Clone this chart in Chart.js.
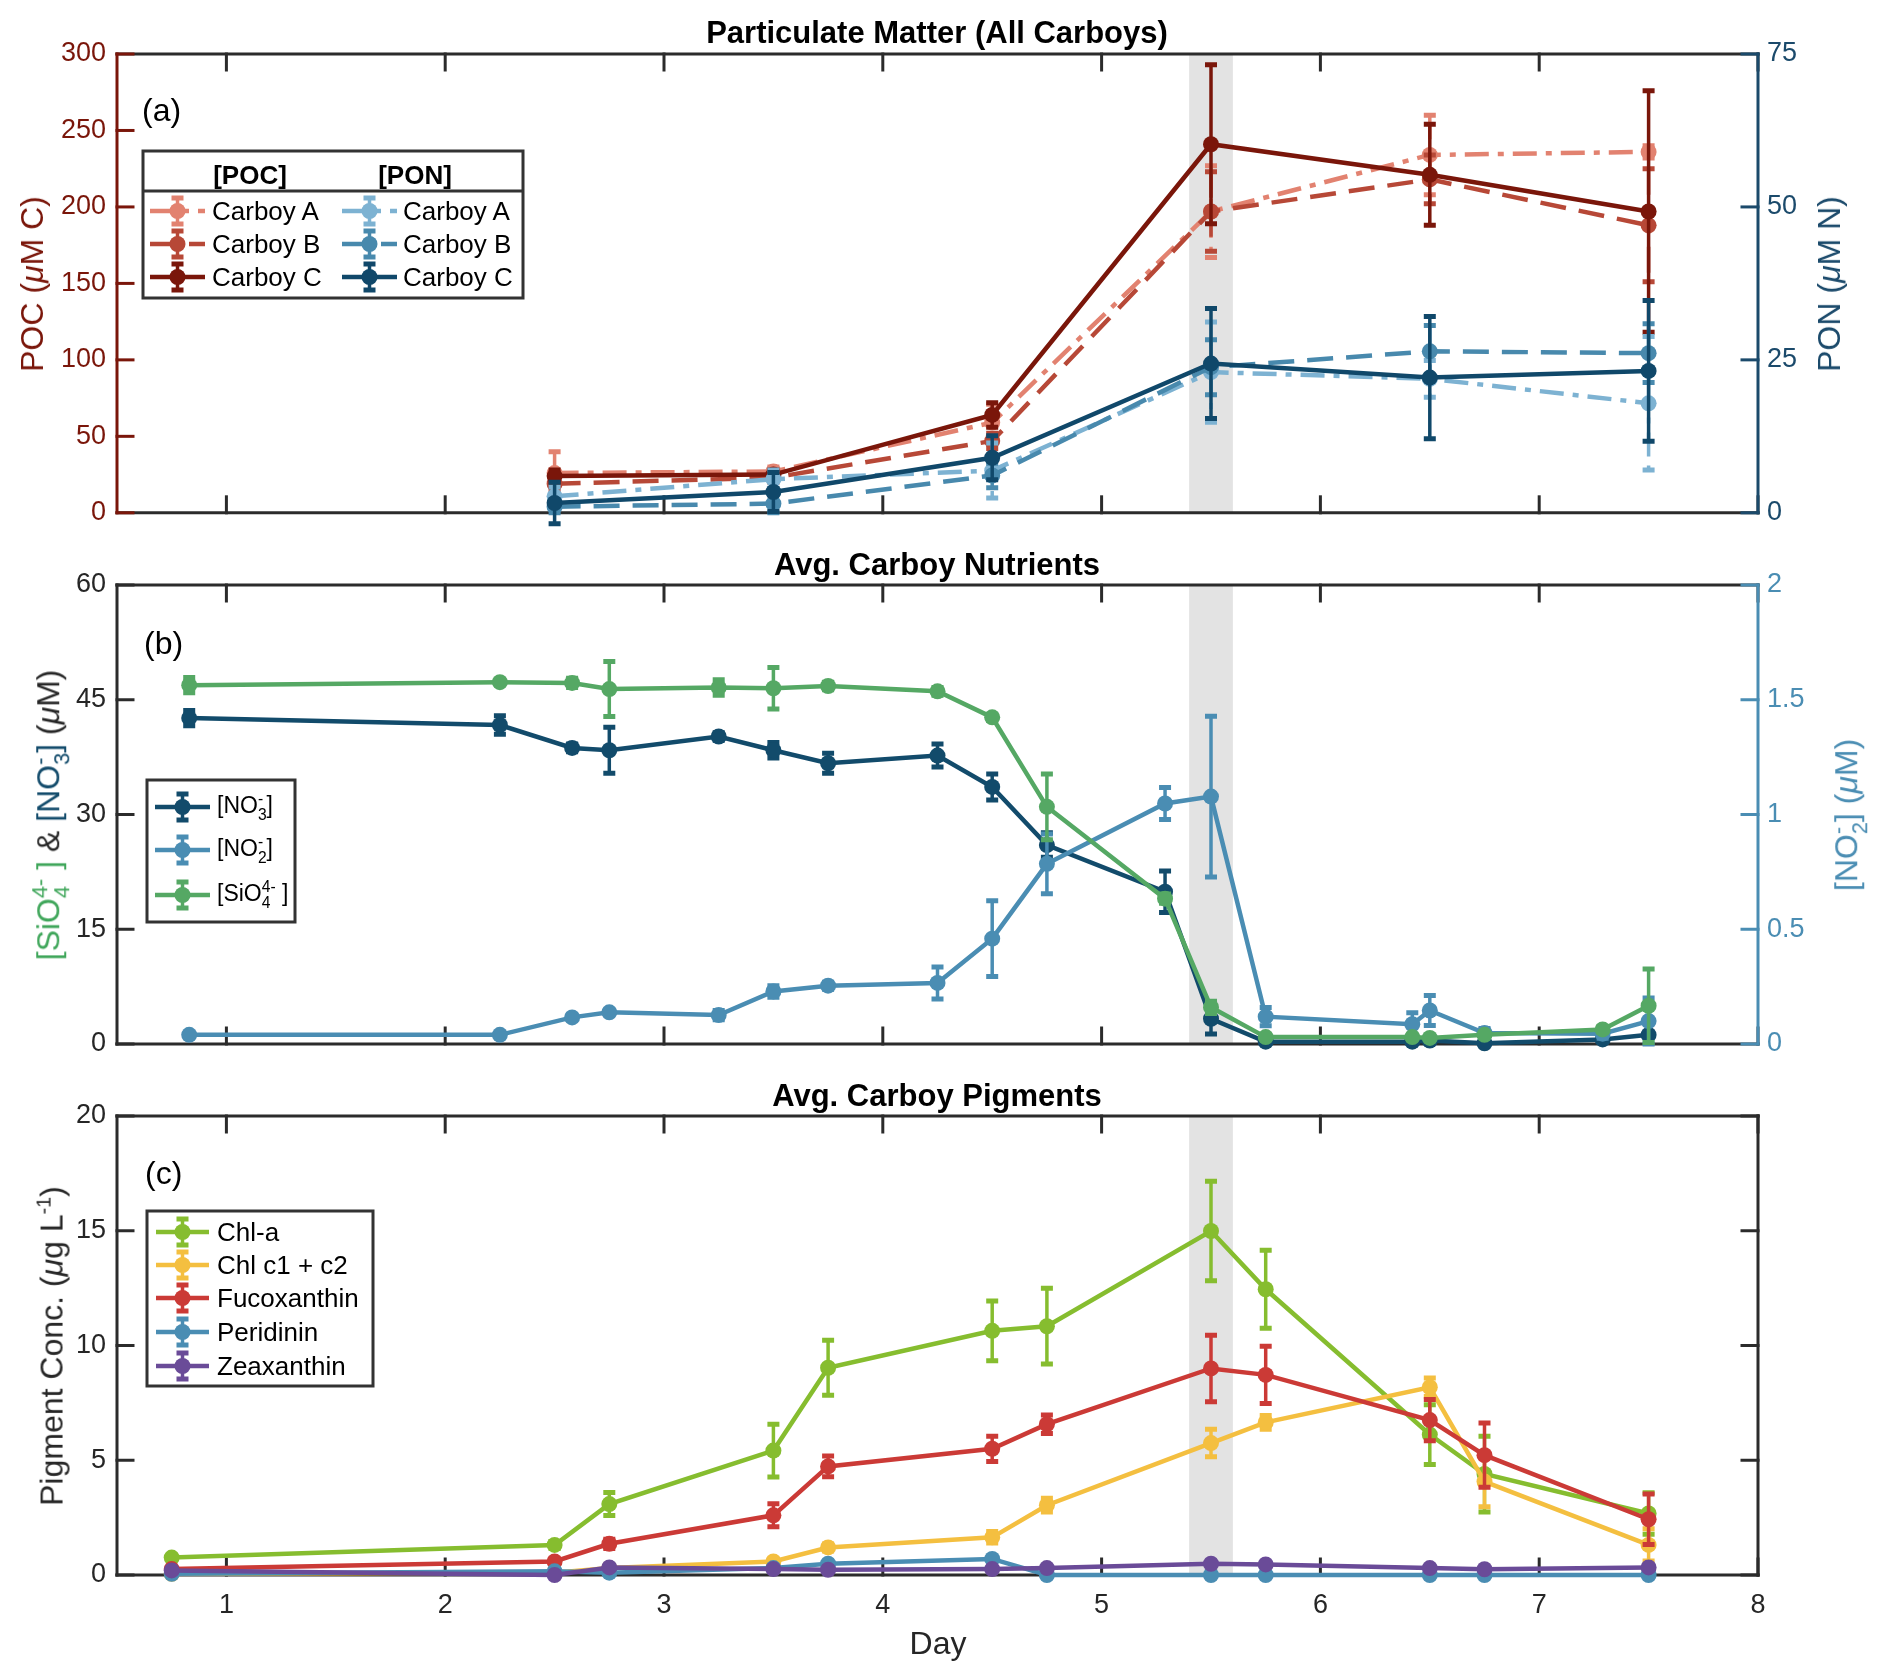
<!DOCTYPE html>
<html>
<head>
<meta charset="utf-8">
<title>Carboy particulate matter, nutrients and pigments</title>
<script src="https://cdn.jsdelivr.net/npm/chart.js@4.4.0/dist/chart.umd.min.js"></script>
<style>
body { margin: 0; background: #fff; }
#page { position: relative; width: 1892px; height: 1680px; font-family: 'Liberation Sans', Arial, Helvetica, sans-serif; color: #000; }
canvas { position: absolute; left: 0; }
.t { position: absolute; white-space: nowrap; line-height: 1; }
.ttl { font-weight: bold; font-size: 31px; transform: translate(-50%, -50%); }
.pl { font-size: 32px; transform: translateY(-50%); }
.yl { font-size: 32px; transform: translate(-50%, -50%) rotate(-90deg); }
.xl { font-size: 32px; transform: translate(-50%, -50%); color: #262626; }
.lg { font-size: 26px; transform: translateY(-50%); }
.lgh { font-size: 26px; font-weight: bold; transform: translate(-50%, -50%); }
.lgs { font-size: 23px; transform: translateY(-50%); }
.ss { display: inline-block; vertical-align: -0.45em; font-size: 0.68em; line-height: 1.0; }
.ss span { display: block; }
.sp { font-size: 0.62em; vertical-align: 0.6em; }
</style>
</head>
<body>
<div id="page">
  <canvas id="chartA" width="1892" height="540" style="top:0"></canvas>
  <canvas id="chartB" width="1892" height="540" style="top:540px"></canvas>
  <canvas id="chartC" width="1892" height="600" style="top:1080px"></canvas>

  <div class="t ttl" style="left:937px;top:32px">Particulate Matter (All Carboys)</div>
  <div class="t ttl" style="left:937px;top:564px">Avg. Carboy Nutrients</div>
  <div class="t ttl" style="left:937px;top:1095px">Avg. Carboy Pigments</div>

  <div class="t pl" style="left:142px;top:110px">(a)</div>
  <div class="t pl" style="left:144px;top:643px">(b)</div>
  <div class="t pl" style="left:145px;top:1173px">(c)</div>

  <div class="t yl" style="left:32px;top:284px;color:#7A160A">POC (<i>μ</i>M C)</div>
  <div class="t yl" style="left:1829px;top:284px;color:#1B4A6B">PON (<i>μ</i>M N)</div>
  <div class="t yl" style="left:51px;top:815px;color:#262626"><span style="color:#3FA65A">[SiO<span class="ss"><span>4-</span><span>4</span></span> ]</span> &amp; <span style="color:#124B6B">[NO<span class="ss"><span>-</span><span>3</span></span>]</span> (<i>μ</i>M)</div>
  <div class="t yl" style="left:1849px;top:815px;color:#4A8DB3">[NO<span class="ss"><span>-</span><span>2</span></span>] (<i>μ</i>M)</div>
  <div class="t yl" style="left:51px;top:1346px;color:#262626">Pigment Conc. (<i>μ</i>g L<span class="sp">-1</span>)</div>
  <div class="t xl" style="left:938px;top:1643px">Day</div>

  <div class="t lgh" style="left:250px;top:175px">[POC]</div>
  <div class="t lgh" style="left:415px;top:175px">[PON]</div>
  <div class="t lg" style="left:212px;top:211px">Carboy A</div>
  <div class="t lg" style="left:212px;top:244px">Carboy B</div>
  <div class="t lg" style="left:212px;top:277px">Carboy C</div>
  <div class="t lg" style="left:403px;top:211px">Carboy A</div>
  <div class="t lg" style="left:403px;top:244px">Carboy B</div>
  <div class="t lg" style="left:403px;top:277px">Carboy C</div>

  <div class="t lgs" style="left:217px;top:807px">[NO<span class="ss"><span>-</span><span>3</span></span>]</div>
  <div class="t lgs" style="left:217px;top:850px">[NO<span class="ss"><span>-</span><span>2</span></span>]</div>
  <div class="t lgs" style="left:217px;top:895px">[SiO<span class="ss"><span>4-</span><span>4</span></span> ]</div>

  <div class="t lg" style="left:217px;top:1232px">Chl-a</div>
  <div class="t lg" style="left:217px;top:1265px">Chl c1 + c2</div>
  <div class="t lg" style="left:217px;top:1298px">Fucoxanthin</div>
  <div class="t lg" style="left:217px;top:1332px">Peridinin</div>
  <div class="t lg" style="left:217px;top:1366px">Zeaxanthin</div>
</div>

<script>
// shared x axis
const dayTicks = [1, 2, 3, 4, 5, 6, 7, 8];
const dayMin = 0.5, dayMax = 8;
const bloomBand = [5.4, 5.6];

// (a) particulate matter, days sampled
const pmDays = [2.5, 3.5, 4.5, 5.5, 6.5, 7.5];
const pocA = [26, 27, 59, 197, 234, 236];
const pocAErr = [14, 3, 12, 30, 26, 4];
const pocB = [19, 23, 47, 197, 218, 188];
const pocBErr = [4, 3, 5, 26, 16, 37];
const pocC = [24, 25, 64, 241, 221, 197];
const pocCErr = [4, 3, 8, 52, 33, 79];
const ponA = [2.7, 5.5, 6.9, 23.0, 21.9, 17.9];
const ponAErr = [1.5, 1.5, 4.5, 8.2, 3, 10.9];
const ponB = [1.0, 1.5, 6.1, 23.8, 26.4, 26.1];
const ponBErr = [1, 1.5, 2, 4.5, 4.2, 4.8];
const ponC = [1.6, 3.4, 9.0, 24.4, 22.1, 23.2];
const ponCErr = [3.4, 3.2, 3.6, 9, 10, 11.5];

// (b) nutrients
const nutDays = [0.83, 2.25, 2.58, 2.75, 3.25, 3.5, 3.75, 4.25, 4.5, 4.75, 5.29, 5.5, 5.75, 6.42, 6.5, 6.75, 7.29, 7.5];
const sio4 = [46.9, 47.3, 47.2, 46.4, 46.6, 46.5, 46.8, 46.1, 42.7, 31.0, 19.0, 4.8, 0.9, 0.9, 0.8, 1.2, 1.9, 5.0];
const sio4Err = [1.0, 0.3, 0.6, 3.6, 1.0, 2.7, 0.5, 0.5, 0.4, 4.3, 0.6, 0.8, 0.3, 0.3, 0.3, 0.3, 0.4, 4.8];
const no3 = [42.6, 41.7, 38.7, 38.4, 40.2, 38.4, 36.7, 37.7, 33.6, 26.0, 19.9, 3.3, 0.3, 0.3, 0.45, 0.1, 0.6, 1.2];
const no3Err = [1.0, 1.2, 0.5, 3.0, 0.5, 1.0, 1.3, 1.5, 1.7, 1.6, 2.7, 2.0, 0.2, 0.2, 0.2, 0.2, 0.2, 0.3];
const no2 = [0.04, 0.04, 0.116, 0.138, 0.126, 0.229, 0.254, 0.266, 0.459, 0.785, 1.048, 1.078, 0.119, 0.086, 0.146, 0.048, 0.045, 0.10];
const no2Err = [0.01, 0.01, 0.01, 0.01, 0.02, 0.025, 0.015, 0.07, 0.165, 0.13, 0.07, 0.35, 0.04, 0.05, 0.065, 0.02, 0.02, 0.1];

// (c) pigments
const pigDays = [0.75, 2.5, 2.75, 3.5, 3.75, 4.5, 4.75, 5.5, 5.75, 6.5, 6.75, 7.5];
const chlA = [0.76, 1.31, 3.09, 5.42, 9.03, 10.64, 10.84, 14.99, 12.45, 6.12, 4.40, 2.68];
const chlAErr = [0.1, 0.15, 0.5, 1.15, 1.2, 1.3, 1.65, 2.17, 1.7, 1.3, 1.65, 0.9];
const chlC = [0.05, 0.1, 0.3, 0.59, 1.2, 1.64, 3.04, 5.75, 6.65, 8.18, 4.07, 1.31];
const chlCErr = [0.05, 0.05, 0.1, 0.1, 0.15, 0.25, 0.3, 0.6, 0.3, 0.4, 1.1, 0.7];
const fuco = [0.26, 0.59, 1.36, 2.6, 4.73, 5.5, 6.57, 9.0, 8.72, 6.75, 5.22, 2.43];
const fucoErr = [0.05, 0.1, 0.2, 0.5, 0.45, 0.55, 0.4, 1.45, 1.25, 0.9, 1.4, 1.1];
const peri = [0.05, 0.16, 0.1, 0.3, 0.49, 0.7, 0.0, 0.0, 0.0, 0.0, 0.0, 0.0];
const periErr = [0.03, 0.03, 0.03, 0.05, 0.05, 0.08, 0.01, 0.01, 0.01, 0.01, 0.01, 0.01];
const zea = [0.2, 0.0, 0.33, 0.26, 0.23, 0.26, 0.3, 0.49, 0.46, 0.3, 0.25, 0.33];
const zeaErr = [0.03, 0.03, 0.05, 0.05, 0.05, 0.05, 0.05, 0.05, 0.05, 0.05, 0.05, 0.05];

const AXIS = '#2b2b2b';
const DASH = [26, 13];
const DASHDOT = [24, 9, 6, 9];

Chart.defaults.font.family = "'Liberation Sans', Arial, Helvetica, sans-serif";
Chart.defaults.font.size = 27;

function series(label, days, vals, errs, color, axis, dash) {
  return {
    label: label,
    data: days.map((d, i) => ({ x: d, y: vals[i] })),
    errors: errs,
    yAxisID: axis,
    borderColor: color,
    backgroundColor: color,
    pointBackgroundColor: color,
    borderWidth: 4.5,
    borderDash: dash || [],
    pointRadius: 8,
    pointBorderWidth: 0,
    tension: 0,
    fill: false,
    clip: false
  };
}

function errGlyph(ctx, x, top, bot, dash) {
  ctx.lineWidth = 3.5;
  ctx.setLineDash(dash);
  ctx.beginPath(); ctx.moveTo(x, top); ctx.lineTo(x, bot); ctx.stroke();
  ctx.setLineDash([]);
  ctx.lineWidth = 5;
  ctx.beginPath();
  ctx.moveTo(x - 6, top); ctx.lineTo(x + 6, top);
  ctx.moveTo(x - 6, bot); ctx.lineTo(x + 6, bot);
  ctx.stroke();
}

// error bars go under each series' line and markers
const errorBars = {
  id: 'errorBars',
  beforeDatasetDraw(chart, args) {
    const ds = chart.data.datasets[args.index];
    if (!ds.errors) return;
    const ctx = chart.ctx;
    const ys = chart.scales[args.meta.yAxisID];
    ctx.save();
    ctx.strokeStyle = ds.borderColor;
    args.meta.data.forEach((pt, i) => {
      const v = ds.data[i].y, e = ds.errors[i];
      errGlyph(ctx, pt.x, ys.getPixelForValue(v + e), ys.getPixelForValue(v - e), ds.borderDash);
    });
    ctx.restore();
  }
};

// shaded band, box and inward ticks like the original figure
const frame = {
  id: 'frame',
  beforeDatasetsDraw(chart, args, o) {
    const ctx = chart.ctx, a = chart.chartArea, sx = chart.scales.x;
    const T = 16;
    const seg = (x0, y0, x1, y1) => { ctx.beginPath(); ctx.moveTo(x0, y0); ctx.lineTo(x1, y1); ctx.stroke(); };
    ctx.save();
    const b0 = sx.getPixelForValue(bloomBand[0]), b1 = sx.getPixelForValue(bloomBand[1]);
    ctx.fillStyle = '#e3e3e3';
    ctx.fillRect(b0, a.top, b1 - b0, a.bottom - a.top);

    ctx.lineWidth = 3;
    ctx.lineCap = 'square';
    ctx.strokeStyle = AXIS;
    seg(a.left, a.top, a.right, a.top);
    seg(a.left, a.bottom, a.right, a.bottom);
    dayTicks.forEach(d => {
      const px = sx.getPixelForValue(d);
      seg(px, a.bottom, px, a.bottom - T);
      seg(px, a.top, px, a.top + T);
    });

    const left = chart.scales.y;
    ctx.strokeStyle = o.leftColor;
    seg(a.left, a.top, a.left, a.bottom);
    left.ticks.forEach(t => { const py = left.getPixelForValue(t.value); seg(a.left, py, a.left + T, py); });

    const right = chart.scales[o.rightScale];
    ctx.strokeStyle = o.rightColor;
    seg(a.right, a.top, a.right, a.bottom);
    right.ticks.forEach(t => { const py = right.getPixelForValue(t.value); seg(a.right, py, a.right - T, py); });
    ctx.restore();
  }
};

// boxed legend samples (text is html)
const legendBox = {
  id: 'legendBox',
  afterDraw(chart, args, o) {
    const ctx = chart.ctx;
    const [bx, by, bw, bh] = o.box;
    ctx.save();
    ctx.fillStyle = '#fff';
    ctx.fillRect(bx, by, bw, bh);
    ctx.strokeStyle = '#333';
    ctx.lineWidth = 3;
    ctx.strokeRect(bx, by, bw, bh);
    if (o.divider) {
      ctx.beginPath(); ctx.moveTo(bx, o.divider); ctx.lineTo(bx + bw, o.divider); ctx.stroke();
    }
    o.items.forEach(it => {
      const ds = chart.data.datasets[it.ds];
      const mx = (it.x0 + it.x1) / 2;
      ctx.strokeStyle = ds.borderColor;
      ctx.lineWidth = 4.5;
      ctx.setLineDash(ds.borderDash);
      ctx.beginPath(); ctx.moveTo(it.x0, it.y); ctx.lineTo(it.x1, it.y); ctx.stroke();
      errGlyph(ctx, mx, it.y - 13, it.y + 13, []);
      ctx.fillStyle = ds.borderColor;
      ctx.beginPath(); ctx.arc(mx, it.y, 8, 0, Math.PI * 2); ctx.fill();
    });
    ctx.restore();
  }
};

function xAxis(showLabels, height) {
  return {
    type: 'linear', min: dayMin, max: dayMax,
    afterBuildTicks: s => { s.ticks = dayTicks.map(v => ({ value: v })); },
    ticks: { display: showLabels, color: '#262626', padding: 14, callback: v => String(v) },
    grid: { display: false, drawTicks: false },
    border: { display: false },
    afterFit: s => { s.height = height; }
  };
}

function yAxis(pos, min, max, step, color, width, pad) {
  return {
    type: 'linear', position: pos, min: min, max: max,
    ticks: { stepSize: step, color: color, padding: pad, callback: v => String(v) },
    grid: { display: false, drawTicks: false },
    border: { display: false },
    afterFit: s => { s.width = width; }
  };
}

function baseOptions(extra) {
  return Object.assign({
    responsive: false,
    animation: false,
    events: [],
    plugins: { legend: { display: false }, tooltip: { enabled: false } }
  }, extra);
}

// (a) -- later series drawn first so PON C ends up on top
new Chart(document.getElementById('chartA'), {
  type: 'line',
  data: {
    datasets: [
      series('PON Carboy C', pmDays, ponC, ponCErr, '#10486A', 'y2'),
      series('PON Carboy B', pmDays, ponB, ponBErr, '#4889AD', 'y2', DASH),
      series('PON Carboy A', pmDays, ponA, ponAErr, '#7DB2D2', 'y2', DASHDOT),
      series('POC Carboy C', pmDays, pocC, pocCErr, '#7A160A', 'y'),
      series('POC Carboy B', pmDays, pocB, pocBErr, '#B74837', 'y', DASH),
      series('POC Carboy A', pmDays, pocA, pocAErr, '#E28270', 'y', DASHDOT)
    ]
  },
  options: baseOptions({
    layout: { padding: { top: 54, left: 0, right: 0, bottom: 0 } },
    scales: {
      x: xAxis(false, 27),
      y: yAxis('left', 0, 300, 50, '#7A160A', 117, 11),
      y2: yAxis('right', 0, 75, 25, '#1B4A6B', 134, 9)
    },
    plugins: {
      legend: { display: false }, tooltip: { enabled: false },
      frame: { leftColor: '#7A160A', rightColor: '#1B4A6B', rightScale: 'y2' },
      legendBox: {
        box: [143, 151, 380, 147], divider: 191,
        items: [
          { ds: 5, x0: 150, x1: 205, y: 211 },
          { ds: 4, x0: 150, x1: 205, y: 244 },
          { ds: 3, x0: 150, x1: 205, y: 277 },
          { ds: 2, x0: 342, x1: 397, y: 211 },
          { ds: 1, x0: 342, x1: 397, y: 244 },
          { ds: 0, x0: 342, x1: 397, y: 277 }
        ]
      }
    }
  }),
  plugins: [frame, errorBars, legendBox]
});

// (b)
new Chart(document.getElementById('chartB'), {
  type: 'line',
  data: {
    datasets: [
      series('[SiO4 4-]', nutDays, sio4, sio4Err, '#55A864', 'y'),
      series('[NO2-]', nutDays, no2, no2Err, '#4A8DB3', 'y2'),
      series('[NO3-]', nutDays, no3, no3Err, '#124B6B', 'y')
    ]
  },
  options: baseOptions({
    layout: { padding: { top: 45, left: 0, right: 0, bottom: 0 } },
    scales: {
      x: xAxis(false, 36),
      y: yAxis('left', 0, 60, 15, '#262626', 117, 11),
      y2: yAxis('right', 0, 2, 0.5, '#4A8DB3', 134, 9)
    },
    plugins: {
      legend: { display: false }, tooltip: { enabled: false },
      frame: { leftColor: AXIS, rightColor: '#4A8DB3', rightScale: 'y2' },
      legendBox: {
        box: [147, 240, 148, 142],
        items: [
          { ds: 2, x0: 155, x1: 210, y: 267 },
          { ds: 1, x0: 155, x1: 210, y: 310 },
          { ds: 0, x0: 155, x1: 210, y: 355 }
        ]
      }
    }
  }),
  plugins: [frame, errorBars, legendBox]
});

// (c)
new Chart(document.getElementById('chartC'), {
  type: 'line',
  data: {
    datasets: [
      series('Zeaxanthin', pigDays, zea, zeaErr, '#6A4B98', 'y'),
      series('Peridinin', pigDays, peri, periErr, '#4A8DB3', 'y'),
      series('Fucoxanthin', pigDays, fuco, fucoErr, '#CB3A36', 'y'),
      series('Chl c1 + c2', pigDays, chlC, chlCErr, '#F4BF40', 'y'),
      series('Chl-a', pigDays, chlA, chlAErr, '#86BD2F', 'y')
    ]
  },
  options: baseOptions({
    layout: { padding: { top: 36, left: 0, right: 134, bottom: 0 } },
    scales: {
      x: xAxis(true, 105),
      y: yAxis('left', 0, 20, 5, '#262626', 117, 11)
    },
    plugins: {
      legend: { display: false }, tooltip: { enabled: false },
      frame: { leftColor: AXIS, rightColor: AXIS, rightScale: 'y' },
      legendBox: {
        box: [147, 131, 226, 175],
        items: [
          { ds: 4, x0: 156, x1: 209, y: 152 },
          { ds: 3, x0: 156, x1: 209, y: 185 },
          { ds: 2, x0: 156, x1: 209, y: 218 },
          { ds: 1, x0: 156, x1: 209, y: 252 },
          { ds: 0, x0: 156, x1: 209, y: 286 }
        ]
      }
    }
  }),
  plugins: [frame, errorBars, legendBox]
});
</script>
</body>
</html>
